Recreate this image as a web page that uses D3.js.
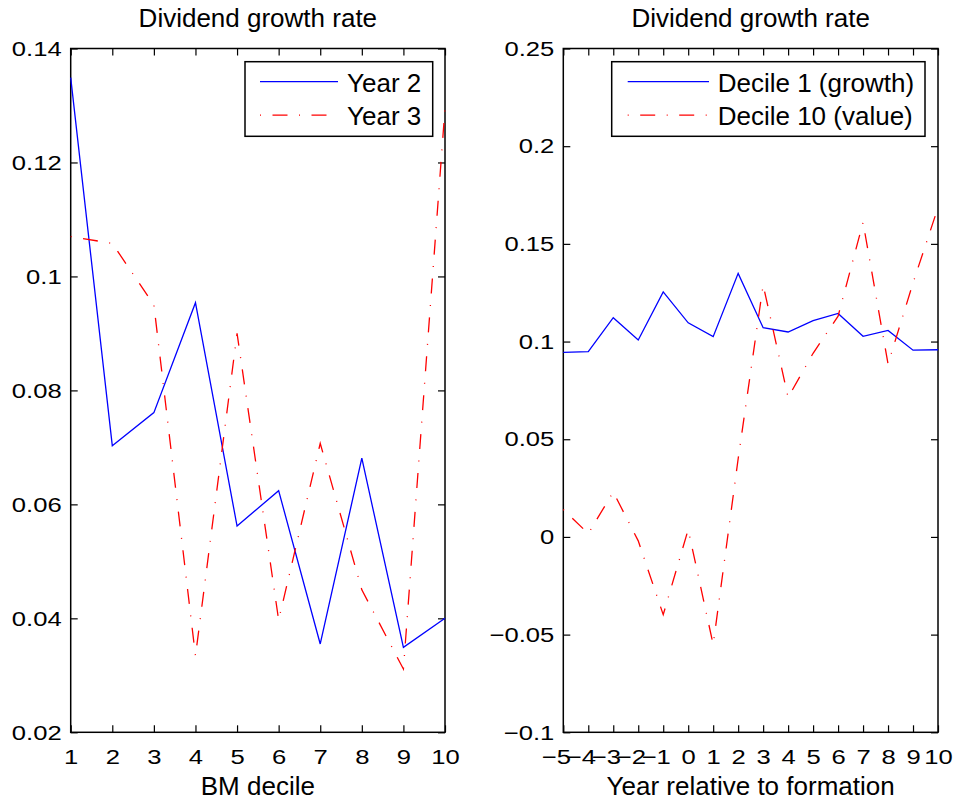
<!DOCTYPE html>
<html>
<head>
<meta charset="utf-8">
<script src="https://cdn.jsdelivr.net/npm/d3@7"></script>
<style>
  body { margin: 0; background: #fff; }
  svg { font-family: "Liberation Sans", Arial, Helvetica, sans-serif; }
  .tick text { font-size: 21px; fill: #000; }
</style>
</head>
<body>
<script>
// left panel: dividend growth by BM decile
const deciles = [1, 2, 3, 4, 5, 6, 7, 8, 9, 10];
const year2 = [0.1349, 0.0703, 0.0761, 0.0954, 0.0562, 0.0624, 0.0355, 0.0681, 0.0349, 0.0400];
const year3 = [0.1070, 0.1058, 0.0950, 0.0334, 0.0900, 0.0397, 0.0707, 0.0450, 0.0311, 0.1295];
const leftYTicks = [0.02, 0.04, 0.06, 0.08, 0.1, 0.12, 0.14];

// right panel: years around formation
const years = [-5, -4, -3, -2, -1, 0, 1, 2, 3, 4, 5, 6, 7, 8, 9, 10];
const decile1 = [0.0945, 0.0948, 0.1122, 0.1008, 0.1254, 0.1096, 0.1025, 0.1349, 0.1071, 0.1049, 0.1107, 0.1144, 0.1027, 0.1057, 0.0956, 0.0958];
const decile10 = [0.014, 0.0017, 0.023, -0.002, -0.0398, 0.0038, -0.0551, 0.040, 0.129, 0.0714, 0.094, 0.113, 0.161, 0.0885, 0.130, 0.1686];
const rightYTicks = [-0.1, -0.05, 0, 0.05, 0.1, 0.15, 0.2, 0.25];

const W = 958, H = 804;
const plotTop = 48.5, plotBottom = 732.3;
const dashDot = "1 11.5 15 11.5";
const tickStretch = 1.22;   // tick labels in the source are wide and short
const bigFont = 26;

const svg = d3.select("body").append("svg").attr("width", W).attr("height", H);

const fmt = d => String(+d.toFixed(4)).replace("-", "\u2212");

function stretchTicks(sel, hangMinus) {
  sel.selectAll(".tick text").each(function (d) {
    const t = d3.select(this);
    let tx = +t.attr("x") || 0;
    const ty = +t.attr("y") || 0;
    // x labels: the digits sit centred on the tick, the minus hangs to the left
    if (hangMinus && d < 0) {
      const n = this.getNumberOfChars();
      const digits = this.getSubStringLength(1, n - 1);
      t.attr("text-anchor", "end");
      tx += digits * tickStretch / 2;
    }
    t.attr("x", null).attr("y", null)
      .attr("transform", `translate(${tx},${ty}) scale(${tickStretch},1)`);
  });
}

function panel(opts) {
  const x = d3.scaleLinear().domain(opts.xDomain).range([opts.left, opts.right]);
  const y = d3.scaleLinear().domain(opts.yDomain).range([plotBottom, plotTop]);
  const g = svg.append("g");
  const tick = 7;

  g.append("g").attr("transform", `translate(0,${plotBottom})`)
    .call(d3.axisBottom(x).tickValues(opts.xTicks).tickSize(-tick).tickPadding(17).tickFormat(fmt))
    .call(stretchTicks, true);
  g.append("g").attr("transform", `translate(0,${plotTop})`)
    .call(d3.axisTop(x).tickValues(opts.xTicks).tickSize(-tick).tickFormat(""));
  g.append("g").attr("transform", `translate(${opts.left},0)`)
    .call(d3.axisLeft(y).tickValues(opts.yTicks).tickSize(-tick).tickPadding(9).tickFormat(fmt))
    .call(stretchTicks, false);
  g.append("g").attr("transform", `translate(${opts.right},0)`)
    .call(d3.axisRight(y).tickValues(opts.yTicks).tickSize(-tick).tickFormat(""));
  g.selectAll(".domain").remove();
  g.selectAll(".tick line").attr("stroke", "#000").attr("stroke-width", 1.2);

  g.append("rect")
    .attr("x", opts.left).attr("y", plotTop)
    .attr("width", opts.right - opts.left).attr("height", plotBottom - plotTop)
    .attr("fill", "none").attr("stroke", "#000").attr("stroke-width", 1.5);

  const line = d3.line().x(d => x(d[0])).y(d => y(d[1]));
  opts.series.forEach(s => {
    g.append("path")
      .datum(opts.xs.map((v, i) => [v, s.values[i]]))
      .attr("d", line)
      .attr("fill", "none")
      .attr("stroke", s.color)
      .attr("stroke-width", 1.3)
      .attr("stroke-dasharray", s.dash || null);
  });

  const cx = (opts.left + opts.right) / 2;
  g.append("text").attr("x", cx).attr("y", 27).attr("text-anchor", "middle")
    .attr("font-size", bigFont).text(opts.title);
  g.append("text").attr("x", cx).attr("y", 795).attr("text-anchor", "middle")
    .attr("font-size", bigFont).text(opts.xlabel);

  // legend
  const L = opts.legend;
  const lg = g.append("g");
  lg.append("rect").attr("x", L.x0).attr("y", 61.7)
    .attr("width", L.x1 - L.x0).attr("height", 74.6)
    .attr("fill", "#fff").attr("stroke", "#000").attr("stroke-width", 1.5);
  opts.series.forEach((s, i) => {
    const ly = 81.7 + i * 33.5;
    lg.append("line").attr("x1", L.lineX0).attr("x2", L.lineX1)
      .attr("y1", ly).attr("y2", ly)
      .attr("stroke", s.color).attr("stroke-width", 1.3)
      .attr("stroke-dasharray", s.dash || null);
    lg.append("text").attr("x", L.textX).attr("y", ly + 10)
      .attr("font-size", bigFont).text(s.name);
  });
}

panel({
  left: 70.7, right: 445,
  xDomain: [1, 10], yDomain: [0.02, 0.14],
  xTicks: deciles, yTicks: leftYTicks,
  xs: deciles,
  series: [
    { name: "Year 2", values: year2, color: "#0000ff" },
    { name: "Year 3", values: year3, color: "#ff0000", dash: dashDot }
  ],
  title: "Dividend growth rate", xlabel: "BM decile",
  legend: { x0: 245, x1: 432.7, lineX0: 260, lineX1: 338, textX: 347 }
});

panel({
  left: 563.3, right: 938,
  xDomain: [-5, 10], yDomain: [-0.1, 0.25],
  xTicks: years, yTicks: rightYTicks,
  xs: years,
  series: [
    { name: "Decile 1 (growth)", values: decile1, color: "#0000ff" },
    { name: "Decile 10 (value)", values: decile10, color: "#ff0000", dash: dashDot }
  ],
  title: "Dividend growth rate", xlabel: "Year relative to formation",
  legend: { x0: 611.7, x1: 925, lineX0: 627.7, lineX1: 709, textX: 717.7 }
});
</script>
</body>
</html>
